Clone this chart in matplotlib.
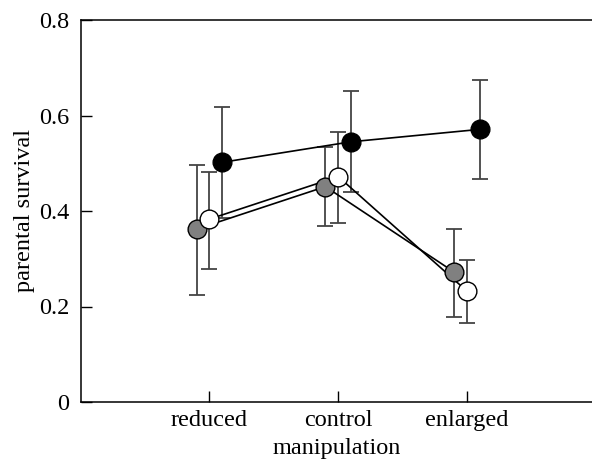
import matplotlib
matplotlib.use("Agg")
import matplotlib.pyplot as plt
import numpy as np

plt.rcParams['font.family'] = ['Liberation Serif', 'DejaVu Serif']

categories = ["reduced", "control", "enlarged"]
x_base = np.array([1, 2, 3])

grey_vals = [0.362, 0.451, 0.272]
grey_hi = [0.496, 0.535, 0.362]
grey_lo = [0.225, 0.369, 0.179]

white_vals = [0.383, 0.472, 0.232]
white_hi = [0.482, 0.565, 0.297]
white_lo = [0.279, 0.375, 0.165]

black_vals = [0.502, 0.545, 0.571]
black_hi = [0.618, 0.651, 0.674]
black_lo = [0.385, 0.440, 0.467]

fig = plt.figure(figsize=(5.92, 4.62), dpi=100)
ax = fig.add_axes([80.7/592, 1-402/462, 1-80.7/592, 382/462])

series = [
    (grey_vals, grey_lo, grey_hi, -0.1, "#808080"),
    (white_vals, white_lo, white_hi, 0.0, "white"),
    (black_vals, black_lo, black_hi, 0.1, "black"),
]
for vals, lo, hi, off, fc in series:
    v = np.array(vals); l = np.array(lo); h = np.array(hi)
    xs = x_base + off
    ax.errorbar(xs, v, yerr=[v - l, h - v], fmt='none', ecolor='#444444',
                elinewidth=1.3, capsize=6, capthick=1.3, zorder=1)
    ax.plot(xs, v, color='black', lw=1.2, zorder=2)
    ax.plot(xs, v, 'o', ms=13.5, mfc=fc, mec='black', mew=1.0, zorder=3)

ax.set_xlim(0, 3.97)
ax.set_ylim(0, 0.8)
ax.set_xticks(x_base)
ax.set_xticklabels(categories)
ax.set_yticks([0, 0.2, 0.4, 0.6, 0.8])
ax.set_yticklabels(["0", "0.2", "0.4", "0.6", "0.8"])
ax.tick_params(direction='in', length=8, width=1, labelsize=17.5)
ax.tick_params(axis='y', pad=8)
ax.tick_params(axis='x', pad=6)
ax.spines['right'].set_visible(False)
for s in ['left', 'top', 'bottom']:
    ax.spines[s].set_linewidth(1.1)
ax.set_xlabel("manipulation", fontsize=17.5, labelpad=5)
ax.set_ylabel("parental survival", fontsize=17.5, labelpad=3)

fig.savefig("out.png", dpi=100)
